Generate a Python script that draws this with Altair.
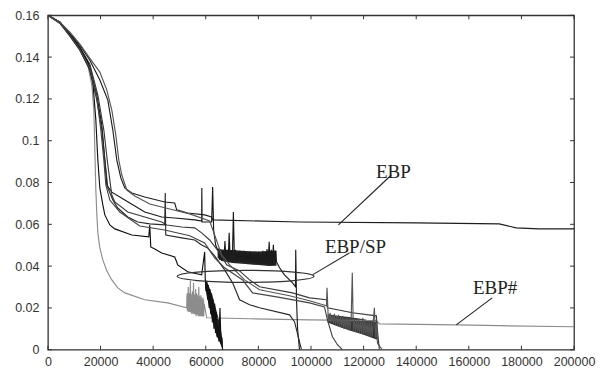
import altair as alt
import pandas as pd

X_TICKS = [0, 20000, 40000, 60000, 80000, 100000, 120000, 140000, 160000, 180000, 200000]
Y_TICKS = [0, 0.02, 0.04, 0.06, 0.08, 0.1, 0.12, 0.14, 0.16]

# ---- curves (iterations, error) ----
EBP = [(0, 0.16), (4554, 0.1567), (8349, 0.1514), (12144, 0.1457), (15939, 0.1385), (19734, 0.1290),
       (22770, 0.1194), (24668, 0.1051), (26186, 0.0907), (27703, 0.0822), (29222, 0.0774), (31878, 0.0750),
       (36812, 0.0731), (44402, 0.0707), (48197, 0.0702), (48956, 0.0669), (53130, 0.0654), (59582, 0.0645),
       (62238, 0.0635), (62618, 0.0621), (95634, 0.0611), (140036, 0.0607), (171534, 0.0602),
       (177986, 0.0583), (186717, 0.0578), (200000, 0.0578)]

EBP_SHARP = [(0, 0.16), (4554, 0.1562), (8349, 0.1500), (12144, 0.1433), (15180, 0.1361), (16698, 0.1266),
             (17457, 0.1146), (17837, 0.0955), (18216, 0.0764), (18596, 0.0645), (18975, 0.0559),
             (19734, 0.0487), (20873, 0.0430), (22391, 0.0377), (24288, 0.0334), (26565, 0.0296),
             (29222, 0.0272), (36812, 0.0239), (45541, 0.0224), (52751, 0.0201),
             (52950, 0.027), (53150, 0.019), (53350, 0.030), (53550, 0.018), (53750, 0.027), (53950, 0.019),
             (54150, 0.033), (54350, 0.018), (54550, 0.025), (54750, 0.017), (54950, 0.028), (55150, 0.018),
             (55350, 0.032), (55550, 0.017), (55750, 0.026), (55950, 0.017), (56150, 0.029), (56350, 0.016),
             (56550, 0.027), (56750, 0.017), (56950, 0.025), (57150, 0.016), (57350, 0.030), (57550, 0.016),
             (57750, 0.024), (57950, 0.016), (58150, 0.026), (58350, 0.016), (58550, 0.023), (58750, 0.016),
             (58950, 0.025), (59150, 0.016), (59400, 0.022), (60341, 0.0153), (76659, 0.0148),
             (99429, 0.0143), (124856, 0.0139), (125994, 0.0124), (155216, 0.0119), (171534, 0.0115),
             (200000, 0.0110)]

CURVE_B = [(0, 0.16), (4554, 0.1567), (8349, 0.1504), (12144, 0.1442), (15939, 0.1356), (18596, 0.1218),
           (20493, 0.1075), (21632, 0.0907), (22391, 0.0788), (24288, 0.0754), (29222, 0.0716),
           (36812, 0.0659), (43263, 0.0635), (48197, 0.0630), (55787, 0.0621), (58443, 0.0616),
           (58500, 0.0774), (58600, 0.0611), (62238, 0.0611), (62618, 0.0779), (62997, 0.0573),
           (63756, 0.0501), (64515, 0.0478),
           (64900, 0.0468), (65300, 0.0430), (65700, 0.0478), (66100, 0.0425), (66500, 0.0473), (66900, 0.0430),
           (67300, 0.0520), (67700, 0.0425), (68100, 0.0478), (68500, 0.0420), (68900, 0.0559), (69300, 0.0425),
           (69700, 0.0473), (70100, 0.0420), (70500, 0.0659), (70900, 0.0425), (71300, 0.0478), (71700, 0.0420),
           (72100, 0.0468), (72500, 0.0425), (72900, 0.0473), (73300, 0.0420), (73700, 0.0468), (74100, 0.0420),
           (74500, 0.0473), (74900, 0.0416), (75300, 0.0468), (75700, 0.0420), (76100, 0.0463), (76500, 0.0416),
           (76900, 0.0468), (77300, 0.0416), (77700, 0.0463), (78100, 0.0411), (78500, 0.0468), (78900, 0.0416),
           (79300, 0.0463), (79700, 0.0411), (80100, 0.0468), (80500, 0.0411), (80900, 0.0463), (81300, 0.0411),
           (81700, 0.0473), (82100, 0.0411), (82500, 0.0468), (82900, 0.0406), (83300, 0.0482), (83700, 0.0411),
           (84100, 0.0516), (84500, 0.0406), (84900, 0.0478), (85300, 0.0406), (85700, 0.0502), (86100, 0.0406),
           (86500, 0.0473), (86900, 0.0420),
           (88044, 0.0392), (89942, 0.0358), (92978, 0.0320), (94116, 0.0301), (94200, 0.0478),
           (94500, 0.0239), (94900, 0.0100), (95634, 0.0)]

CURVE_C = [(0, 0.16), (4554, 0.1567), (8349, 0.1509), (12144, 0.1447), (15939, 0.1366), (18975, 0.1218),
           (21252, 0.1051), (22770, 0.0884), (24288, 0.0740), (25427, 0.0707), (30360, 0.0659),
           (36812, 0.0635), (43263, 0.0611), (45161, 0.0597), (50853, 0.0587), (55787, 0.0583),
           (58443, 0.0559), (61479, 0.0525), (65274, 0.0463), (67931, 0.0406), (72864, 0.0377),
           (76659, 0.0334), (80454, 0.0301), (92978, 0.0272), (99429, 0.0248), (105881, 0.0239),
           (106260, 0.0201), (115748, 0.0177), (124856, 0.0162), (125235, 0.0096), (125994, 0.0)]

CURVE_D = [(0, 0.16), (4554, 0.1562), (8349, 0.1500), (12144, 0.1433), (15939, 0.1337), (18596, 0.1194),
           (20493, 0.1051), (21632, 0.0907), (22770, 0.0774), (24668, 0.0716), (26565, 0.0678),
           (30360, 0.0635), (34155, 0.0611), (38709, 0.0602), (44402, 0.0597), (44600, 0.0750),
           (44781, 0.0549), (50853, 0.0535), (55787, 0.0525), (58443, 0.0501), (60720, 0.0487),
           (63377, 0.0449), (67172, 0.0382), (70208, 0.0320), (72864, 0.0239), (76659, 0.0215),
           (80454, 0.0201), (91839, 0.0167), (93737, 0.0134), (94496, 0.0096), (95634, 0.0038), (96393, 0.0)]

CURVE_E = [(0, 0.16), (4554, 0.1567), (8349, 0.1509), (12144, 0.1447), (15180, 0.1375), (17078, 0.1280),
           (18216, 0.1098), (18975, 0.0907), (19734, 0.0774), (20873, 0.0693), (21632, 0.0645),
           (23529, 0.0597), (25427, 0.0578), (31878, 0.0549), (38330, 0.0540), (38709, 0.0597),
           (39089, 0.0492), (40607, 0.0482), (43263, 0.0463), (48197, 0.0444), (48956, 0.0420),
           (49335, 0.0406), (53130, 0.0373), (58443, 0.0358), (59582, 0.0468),
           (59800, 0.034), (60100, 0.028), (60400, 0.033), (60700, 0.024), (61000, 0.031), (61300, 0.020),
           (61600, 0.029), (61900, 0.017), (62200, 0.027), (62500, 0.013), (62800, 0.024), (63100, 0.010),
           (63400, 0.022), (63700, 0.008), (64000, 0.018), (64300, 0.006), (64600, 0.012), (65000, 0.004),
           (65400, 0.020), (65800, 0.003), (66100, 0.006), (66400, 0.0)]

CURVE_H = [(0, 0.16), (4554, 0.1567), (8349, 0.1519), (12144, 0.1462), (15939, 0.1394), (19734, 0.1328),
           (22391, 0.1242), (24288, 0.1146), (25806, 0.1027), (26945, 0.0907), (28083, 0.0836),
           (29981, 0.0764), (33017, 0.0736), (38709, 0.0697), (46299, 0.0673), (53889, 0.0650),
           (61479, 0.0616), (63377, 0.0549), (66033, 0.0454), (69069, 0.0406), (74762, 0.0334),
           (80454, 0.0287), (91839, 0.0258), (99429, 0.0234), (105881, 0.0210), (106100, 0.0296),
           (106500, 0.0172), (106900, 0.0134), (107300, 0.0177), (107700, 0.0129), (108100, 0.0167),
           (108500, 0.0124), (108900, 0.0172), (109300, 0.0120), (109700, 0.0162), (110100, 0.0115),
           (110500, 0.0167), (110900, 0.0110), (111300, 0.0158), (111700, 0.0105), (112100, 0.0162),
           (112500, 0.0100), (112900, 0.0153), (113300, 0.0100), (113700, 0.0158), (114100, 0.0096),
           (114500, 0.0153), (114900, 0.0091), (115300, 0.0158), (115700, 0.0368), (116100, 0.0091),
           (116500, 0.0148), (116900, 0.0086), (117300, 0.0143), (117700, 0.0081), (118100, 0.0148),
           (118500, 0.0081), (118900, 0.0139), (119300, 0.0076), (119700, 0.0153), (120100, 0.0072),
           (120500, 0.0143), (120900, 0.0072), (121300, 0.0134), (121700, 0.0067), (122100, 0.0139),
           (122500, 0.0062), (122900, 0.0134), (123300, 0.0062), (123700, 0.0143), (124100, 0.0201),
           (124500, 0.0057), (124900, 0.0129), (125200, 0.0048), (125300, 0.0030), (127133, 0.0)]

CURVE_I = [(0, 0.16), (4554, 0.1562), (8349, 0.1504), (12144, 0.1437), (15939, 0.1346), (18596, 0.1204),
           (20114, 0.1051), (21252, 0.0907), (22011, 0.0788), (23529, 0.0716), (27324, 0.0659),
           (34914, 0.0592), (44402, 0.0573), (53889, 0.0545), (59582, 0.0511), (63377, 0.0439),
           (67172, 0.0392), (74003, 0.0334), (77798, 0.0272), (86906, 0.0253), (99429, 0.0224),
           (105122, 0.0205), (106260, 0.0143), (108158, 0.0062), (110056, 0.0024), (111953, 0.0)]

SERIES = ["EBP", "EBP#", "B", "C", "D", "E", "H", "I"]
COLORS = ["#1e1e1e", "#8c8c8c", "#1a1a1a", "#3a3a3a", "#2a2a2a", "#111111", "#555555", "#444444"]
CURVES = [EBP, EBP_SHARP, CURVE_B, CURVE_C, CURVE_D, CURVE_E, CURVE_H, CURVE_I]

# envelopes of the dense oscillation bands (x, low, high)
BAND_NAMES = ["B", "EBP#", "H", "E"]
BAND_COLORS = ["#262626", "#9a9a9a", "#2e2e2e", "#1e1e1e"]
BAND_B = [(64515, 0.0440, 0.0485), (66000, 0.0425, 0.0480), (70000, 0.0415, 0.0477), (75000, 0.0410, 0.0472),
          (80000, 0.0405, 0.0470), (84000, 0.0400, 0.0472), (86900, 0.0402, 0.0475)]
BAND_G = [(52751, 0.0185, 0.0262), (55000, 0.0175, 0.0268), (57500, 0.0165, 0.0258), (59400, 0.0158, 0.0235)]
BAND_H = [(106300, 0.0130, 0.0170), (110000, 0.0112, 0.0163), (115000, 0.0091, 0.0155), (120000, 0.0072, 0.0146),
          (125200, 0.0048, 0.0133)]
BAND_E = [(59700, 0.030, 0.034), (61000, 0.022, 0.031), (62500, 0.014, 0.026), (64000, 0.007, 0.019),
          (65500, 0.003, 0.012), (66400, 0.0, 0.004)]
BANDS = [BAND_B, BAND_G, BAND_H, BAND_E]

LABELS = ["EBP", "EBP/SP", "EBP#"]
LABEL_X = [131300, 116900, 170000]
LABEL_Y = [0.0850, 0.0492, 0.0296]
LEADER_X1 = [130548, 114609, 168878]
LEADER_Y1 = [0.0836, 0.0463, 0.0248]
LEADER_X2 = [110435, 100568, 155216]
LEADER_Y2 = [0.0597, 0.0358, 0.0119]
ELLIPSE_X = [75141]
ELLIPSE_Y = [0.0351]

rows = []
for name, pts in zip(SERIES, CURVES):
    for i, (x, y) in enumerate(pts):
        rows.append({"series": name, "x": x, "y": y, "i": i})
df = pd.DataFrame(rows)

brows = []
for name, pts in zip(BAND_NAMES, BANDS):
    for (x, lo, hi) in pts:
        brows.append({"band": name, "x": x, "lo": lo, "hi": hi})
bdf = pd.DataFrame(brows)

W, H = 527, 335
xs = alt.Scale(domain=[0, 200000], nice=False, zero=False)
ys = alt.Scale(domain=[0, 0.16], nice=False, zero=False)
AX_X = alt.Axis(values=X_TICKS, format="d", title=None, ticks=False, domain=False, grid=False,
                labelFont="Liberation Sans", labelFontSize=12.5, labelColor="#333", labelPadding=6,
                labelFlush=False, labelOverlap=False)
AX_Y = alt.Axis(values=Y_TICKS, format="~g", title=None, ticks=False, domain=False, grid=False,
                labelFont="Liberation Sans", labelFontSize=12.5, labelColor="#333", labelPadding=9,
                labelOverlap=False)


def X(field):
    return alt.X(field, scale=xs, axis=AX_X, title=None)


def Y(field):
    return alt.Y(field, scale=ys, axis=AX_Y, title=None)


bands = alt.Chart(bdf).mark_area(opacity=1, clip=True).encode(
    x=X("x:Q"), y=Y("lo:Q"), y2="hi:Q",
    color=alt.Color("band:N", scale=alt.Scale(domain=BAND_NAMES, range=BAND_COLORS), legend=None),
    detail="band:N",
)

lines = alt.Chart(df).mark_line(strokeWidth=1.15, clip=True).encode(
    x=X("x:Q"), y=Y("y:Q"),
    stroke=alt.Stroke("series:N", scale=alt.Scale(domain=SERIES, range=COLORS), legend=None),
    detail="series:N",
    order=alt.Order("i:Q"),
)

ell_df = pd.DataFrame({"x": ELLIPSE_X, "y": ELLIPSE_Y})
ellipse_path = ("M -1 0 C -1 -0.0484 -0.5523 -0.0876 0 -0.0876 C 0.5523 -0.0876 1 -0.0484 1 0 "
                "C 1 0.0484 0.5523 0.0876 0 0.0876 C -0.5523 0.0876 -1 0.0484 -1 0 Z")
ellipse = alt.Chart(ell_df).mark_point(shape=ellipse_path, filled=False, size=137 * 137, stroke="#333",
                                       strokeWidth=1.2, opacity=1).encode(x=X("x:Q"), y=Y("y:Q"))

lead_df = pd.DataFrame({"x": LEADER_X1, "y": LEADER_Y1, "x2": LEADER_X2, "y2": LEADER_Y2})
leaders = alt.Chart(lead_df).mark_rule(color="#222", strokeWidth=1.1).encode(
    x=X("x:Q"), y=Y("y:Q"), x2="x2:Q", y2="y2:Q")

lab_df = pd.DataFrame({"t": LABELS, "x": LABEL_X, "y": LABEL_Y})
texts = alt.Chart(lab_df).mark_text(font="Liberation Serif", fontSize=19, color="#222", align="center",
                                    baseline="middle").encode(x=X("x:Q"), y=Y("y:Q"), text="t:N")

xt = pd.DataFrame({"x": X_TICKS})
yt = pd.DataFrame({"y": Y_TICKS})
tick_style = dict(color="#333", strokeWidth=1)
xb = alt.Chart(xt).mark_rule(**tick_style).encode(x=X("x:Q"), y=alt.value(H), y2=alt.value(H - 4))
xtop = alt.Chart(xt).mark_rule(**tick_style).encode(x=X("x:Q"), y=alt.value(0), y2=alt.value(4))
yl = alt.Chart(yt).mark_rule(**tick_style).encode(y=Y("y:Q"), x=alt.value(0), x2=alt.value(4))
yr = alt.Chart(yt).mark_rule(**tick_style).encode(y=Y("y:Q"), x=alt.value(W), x2=alt.value(W - 4))

chart = alt.layer(bands, lines, ellipse, leaders, texts, xb, xtop, yl, yr).resolve_scale(
    color="independent"
).properties(
    width=W, height=H,
    autosize=alt.AutoSizeParams(type="none"),
    padding={"left": 40, "top": 7, "right": 22, "bottom": 22},
    background="white",
).configure_view(stroke="#333", strokeWidth=1.3)

chart.save("out.html", embed_options={"renderer": "svg", "actions": False})
